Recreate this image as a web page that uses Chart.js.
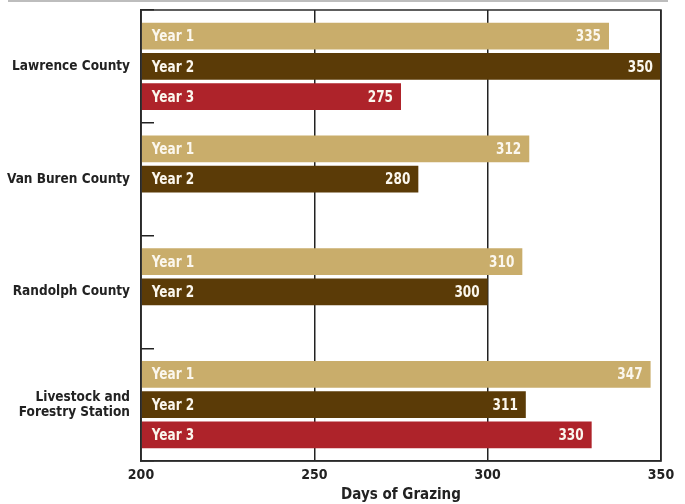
<!DOCTYPE html>
<html>
<head>
<meta charset="utf-8">
<script src="https://cdn.jsdelivr.net/npm/chart.js@4"></script>
<style>
  html, body { margin: 0; padding: 0; background: #fff; }
  #wrap { width: 685px; height: 504px; }
</style>
</head>
<body>
<div id="wrap"><canvas id="grazingChart" width="685" height="504"></canvas></div>
<script>
const locations = [["Lawrence County"], ["Van Buren County"], ["Randolph County"], ["Livestock and", "Forestry Station"]];
const yearLabels = ["Year 1", "Year 2", "Year 3"];
const year1 = [335, 312, 310, 347];
const year2 = [350, 280, 300, 311];
const year3 = [275, null, null, 330];
const xTicks = [200, 250, 300, 350];

const FONT = '"DejaVu Sans Condensed", "Liberation Sans Narrow", sans-serif';
const colors = ["#c9ad6b", "#5b3b07", "#ae232a"];

// grey rule at the top and the box around the plot
const framePlugin = {
  id: "frame",
  beforeDraw(chart) {
    const ctx = chart.ctx;
    ctx.save();
    ctx.strokeStyle = "#bdbdbd";
    ctx.lineWidth = 2;
    ctx.beginPath();
    ctx.moveTo(8, 1);
    ctx.lineTo(668, 1);
    ctx.stroke();
    ctx.restore();
  },
  afterDraw(chart) {
    const a = chart.chartArea;
    const ctx = chart.ctx;
    ctx.save();
    ctx.strokeStyle = "#2a2a2a";
    ctx.lineWidth = 1.5;
    ctx.strokeRect(a.left, a.top, a.right - a.left, a.bottom - a.top);
    ctx.restore();
  }
};

// "Year N" at the start of each bar, value at the end (squeezed a bit to look condensed)
const SQUEEZE = 0.84;
const barTextPlugin = {
  id: "barText",
  afterDatasetsDraw(chart) {
    const ctx = chart.ctx;
    chart.data.datasets.forEach((ds, i) => {
      const meta = chart.getDatasetMeta(i);
      meta.data.forEach((bar, j) => {
        const v = ds.data[j];
        if (v === null) return;
        ctx.save();
        ctx.font = "bold 16px " + FONT;
        ctx.fillStyle = "#fbf7ee";
        ctx.textBaseline = "middle";
        ctx.scale(SQUEEZE, 1);
        ctx.textAlign = "left";
        ctx.fillText(ds.label, (bar.base + 10) / SQUEEZE, bar.y + 1);
        ctx.textAlign = "right";
        ctx.fillText(String(v), (bar.x - 8) / SQUEEZE, bar.y + 1);
        ctx.restore();
      });
    });
  }
};

new Chart(document.getElementById("grazingChart").getContext("2d"), {
  type: "bar",
  data: {
    labels: locations,
    datasets: [
      { label: yearLabels[0], data: year1, backgroundColor: colors[0] },
      { label: yearLabels[1], data: year2, backgroundColor: colors[1] },
      { label: yearLabels[2], data: year3, backgroundColor: colors[2] },
    ],
  },
  options: {
    indexAxis: "y",
    responsive: false,
    animation: false,
    layout: { padding: { top: 10, right: 24, left: 0, bottom: 0 } },
    datasets: { bar: { base: 200, categoryPercentage: 0.806, barPercentage: 0.885 } },
    plugins: {
      legend: { display: false },
      tooltip: { enabled: false },
    },
    scales: {
      x: {
        min: 200,
        max: 350,
        afterBuildTicks(scale) {
          scale.ticks = xTicks.map((v) => ({ value: v }));
        },
        afterFit(scale) { scale.height = 43; },
        grid: { color: "#222", lineWidth: 1.5, drawTicks: false },
        border: { color: "#2a2a2a", width: 1.5 },
        ticks: { color: "#222", padding: 6, font: { family: FONT, size: 14, weight: "bold" } },
        title: {
          display: true,
          text: "Days of Grazing",
          color: "#222",
          padding: { top: 2, bottom: 0 },
          font: { family: FONT, size: 15, weight: "bold" },
        },
      },
      y: {
        afterFit(scale) {
          scale.width = 141;
          scale.paddingTop = 0;
          scale.paddingBottom = 0;
        },
        grid: { offset: true, drawOnChartArea: false, drawTicks: true, tickLength: -13, color: "#222", lineWidth: 1.5 },
        border: { color: "#2a2a2a", width: 1.5 },
        ticks: { color: "#222", padding: 24, font: { family: FONT, size: 13.5, weight: "bold", lineHeight: 1.1 } },
      },
    },
  },
  plugins: [framePlugin, barTextPlugin],
});
</script>
</body>
</html>
